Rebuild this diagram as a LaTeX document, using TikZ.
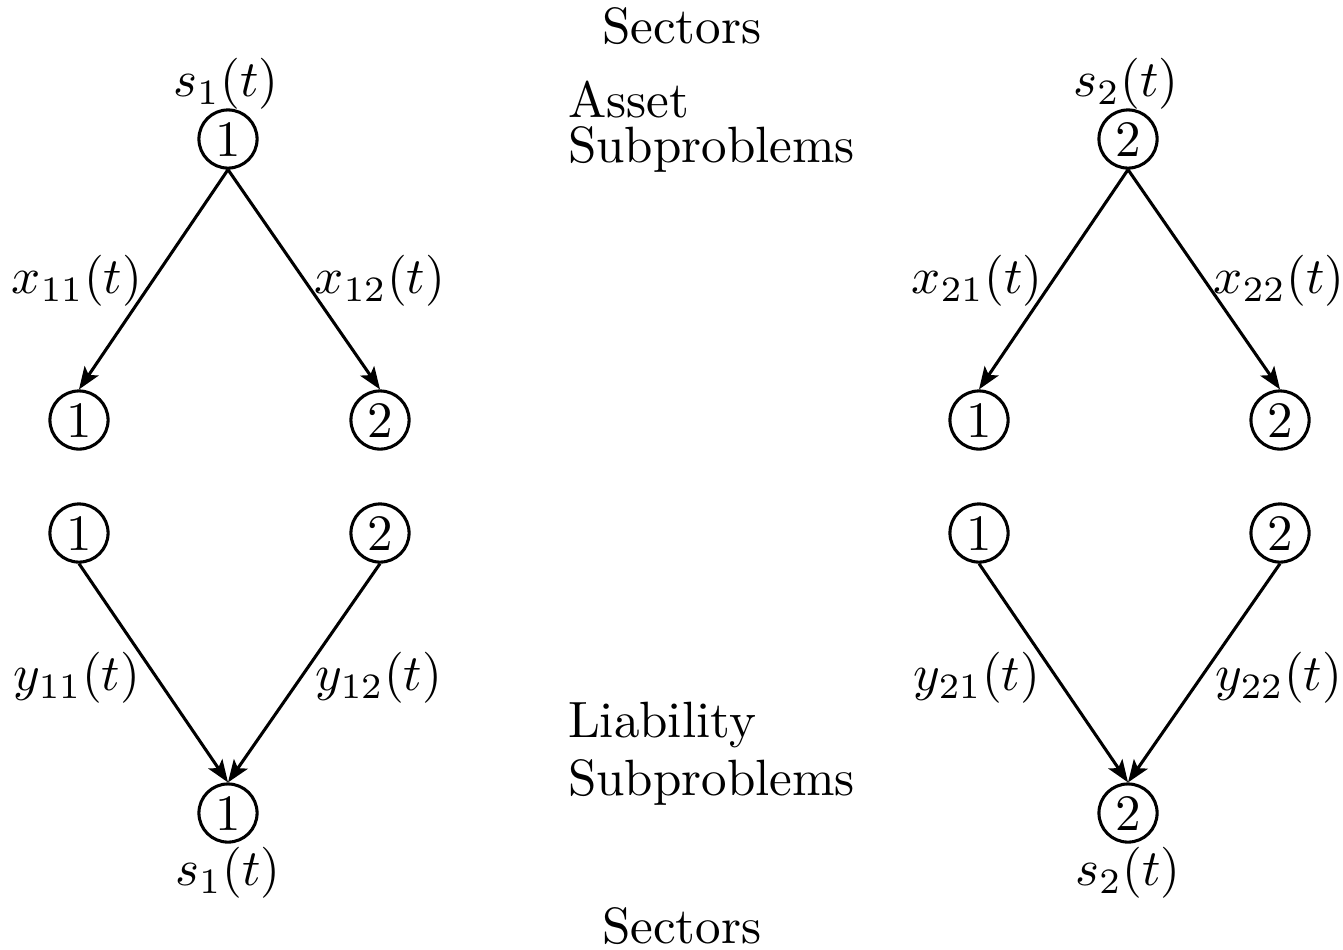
\documentclass[tikz,border=0pt]{standalone}
\usetikzlibrary{arrows.meta}
\begin{document}
\begin{tikzpicture}[x=0.196pt,y=-0.196pt,
  vnode/.style={circle,draw,line width=0.6pt,minimum size=11.4pt,inner sep=0pt},
  flow/.style={line width=0.6pt,-{Stealth[length=4.4pt,width=3.3pt,inset=1pt]}},
  lbl/.style={inner sep=0pt},
  txt/.style={anchor=base west,inner sep=0pt}]
\useasboundingbox (0,0) rectangle (1343,949);
% left sector 1
\node[vnode] (a1)  at (228,139) {1};
\node[vnode] (a11) at (79,420) {1};
\node[vnode] (a12) at (380,420) {2};
\node[vnode] (l11) at (79,533) {1};
\node[vnode] (l12) at (380,533) {2};
\node[vnode] (l1)  at (228,813) {1};
% right sector 2
\node[vnode] (b2)  at (1128,139) {2};
\node[vnode] (b21) at (979,420) {1};
\node[vnode] (b22) at (1280,420) {2};
\node[vnode] (m21) at (979,533) {1};
\node[vnode] (m22) at (1280,533) {2};
\node[vnode] (m2)  at (1128,813) {2};
% connectors
\draw[flow] (a1.south) -- (a11.north);
\draw[flow] (a1.south) -- (a12.north);
\draw[flow] (l11.south) -- (l1.north);
\draw[flow] (l12.south) -- (l1.north);
\draw[flow] (b2.south) -- (b21.north);
\draw[flow] (b2.south) -- (b22.north);
\draw[flow] (m21.south) -- (m2.north);
\draw[flow] (m22.south) -- (m2.north);
% labels
\node[lbl] (ls1t) at (226,84) {$s_1(t)$};
\node[lbl] (lx11) at (77,281) {$x_{11}(t)$};
\node[lbl] (lx12) at (380,281) {$x_{12}(t)$};
\node[lbl] (ly11) at (77,678) {$y_{11}(t)$};
\node[lbl] (ly12) at (379,678) {$y_{12}(t)$};
\node[lbl] (ls1b) at (228,873) {$s_1(t)$};
\node[lbl] (ls2t) at (1126,84) {$s_2(t)$};
\node[lbl] (lx21) at (977,281) {$x_{21}(t)$};
\node[lbl] (lx22) at (1279,281) {$x_{22}(t)$};
\node[lbl] (ly21) at (977,678) {$y_{21}(t)$};
\node[lbl] (ly22) at (1279,678) {$y_{22}(t)$};
\node[lbl] (ls2b) at (1128,873) {$s_2(t)$};
% texts
\node[txt] (sect) at (601,43) {Sectors};
\node[txt] (asset) at (567,117) {Asset};
\node[txt] (asub) at (567,162) {Subproblems};
\node[txt] (liab) at (567,737) {Liability};
\node[txt] (lsub) at (567,795) {Subproblems};
\node[txt] (sectb) at (601,943) {Sectors};
\end{tikzpicture}
\end{document}
